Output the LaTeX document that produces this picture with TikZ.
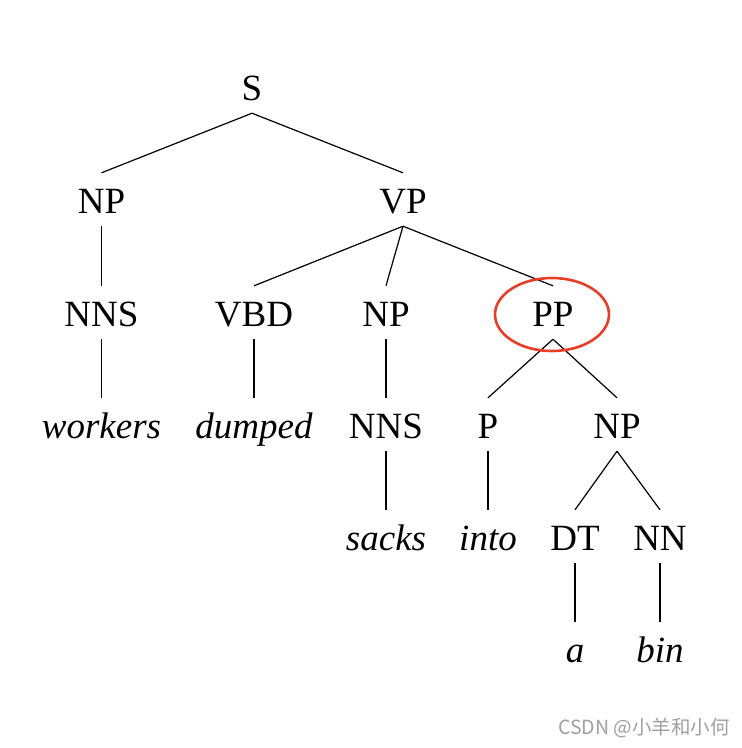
\documentclass[tikz,border=0pt]{standalone}
\usepackage{fontspec}
\usetikzlibrary{shapes.geometric}
\setmainfont{Liberation Serif}
\newfontfamily\cjk{Noto Sans CJK SC}
\begin{document}
\begin{tikzpicture}[x=1pt,y=-1pt,
  lab/.style={inner sep=0pt, anchor=base, text height=40pt, text depth=13pt, font=\fontsize{37}{40}\selectfont},
  wrd/.style={lab, font=\fontsize{37}{40}\selectfont\itshape},
  edge/.style={draw=black, line width=1.2pt}]
\useasboundingbox[fill=white] (0,0) rectangle (742,748);
\node[lab] (S) at (252,100) {S};
\node[lab] (NP1) at (101.5,213) {NP};
\node[lab] (VP) at (403,213) {VP};
\node[lab] (NNS1) at (101.5,326) {NNS};
\node[lab] (VBD) at (254,326) {VBD};
\node[lab] (NP2) at (386,326) {NP};
\node[lab] (PP) at (553,326) {PP};
\node[wrd] (w1) at (101.5,438) {workers};
\node[wrd] (w2) at (254,438) {dumped};
\node[lab] (NNS2) at (386,438) {NNS};
\node[lab] (P) at (488,438) {P};
\node[lab] (NP3) at (617,438) {NP};
\node[wrd] (w3) at (386,550) {sacks};
\node[wrd] (w4) at (488,550) {into};
\node[lab] (DT) at (575,550) {DT};
\node[lab] (NN) at (660,550) {NN};
\node[wrd] (w5) at (575,662) {a};
\node[wrd] (w6) at (660,662) {bin};
\foreach \a/\b in {S/NP1,S/VP,NP1/NNS1,VP/VBD,VP/NP2,VP/PP,NNS1/w1,VBD/w2,NP2/NNS2,PP/P,PP/NP3,NNS2/w3,P/w4,NP3/DT,NP3/NN,DT/w5,NN/w6}
  \draw[edge] (\a.south) -- (\b.north);
\node[draw={rgb,255:red,232;green,62;blue,40}, line width=2.6pt, ellipse, minimum width=114pt, minimum height=73pt, inner sep=0pt] (circ) at (552,314.5) {};
\node[text={rgb,255:red,160;green,160;blue,160}, anchor=east, inner sep=0pt, font=\fontsize{19.5}{22}\selectfont\cjk] (wm) at (730,728) {CSDN @小羊和小何};
\end{tikzpicture}
\end{document}
